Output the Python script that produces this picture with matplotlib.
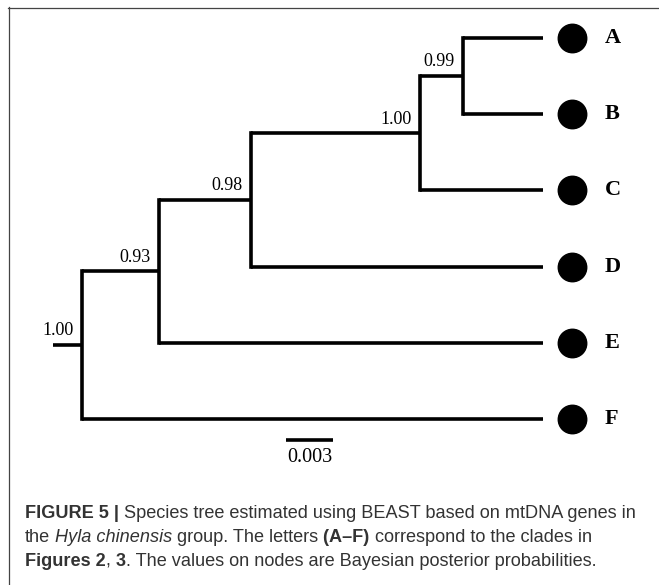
import matplotlib.pyplot as plt
from matplotlib.lines import Line2D

# species tree (BEAST), ultrametric; ages in substitutions/site
tips = ['A', 'B', 'C', 'D', 'E', 'F']
# internal nodes: (child 1, child 2)
node_names = ['AB', 'ABC', 'ABCD', 'ABCDE', 'root']
node_children = [('A', 'B'), ('AB', 'C'), ('ABC', 'D'), ('ABCD', 'E'), ('ABCDE', 'F')]
node_ages = [0.0051, 0.0078, 0.0186, 0.0245, 0.0294]
posteriors = ['0.99', '1.00', '0.98', '0.93', '1.00']
root_stem = 0.00185
scale_len = 0.003

W, H = 659, 585
px_per_unit = 47 / scale_len
fig = plt.figure(figsize=(W / 100, H / 100), dpi=100)
ax = fig.add_axes([0, 0, 1, 1])
ax.set_xlim(-82 / px_per_unit, (W - 82) / px_per_unit)
ax.set_ylim((H - 38) / 76.2, -38 / 76.2)
ax.axis('off')

root_age = node_ages[-1]
xpos, ypos = {}, {}
for i, t in enumerate(tips):
    xpos[t] = root_age
    ypos[t] = i
for name, (c1, c2), age in zip(node_names, node_children, node_ages):
    xpos[name] = root_age - age
    ypos[name] = (ypos[c1] + ypos[c2]) / 2

lw = 2.6
for name, (c1, c2) in zip(node_names, node_children):
    x = xpos[name]
    ax.plot([x, x], [ypos[c1], ypos[c2]], color='black', lw=lw, solid_capstyle='projecting')
    for c in (c1, c2):
        ax.plot([x, xpos[c]], [ypos[c], ypos[c]], color='black', lw=lw, solid_capstyle='butt')
ax.plot([-root_stem, 0], [ypos['root'], ypos['root']], color='black', lw=lw, solid_capstyle='butt')

# posterior probabilities at nodes
for name, pp in zip(node_names, posteriors):
    ax.annotate(pp, xy=(xpos[name], ypos[name]), xytext=(-6, 7), textcoords='offset points',
                ha='right', va='baseline', fontsize=13, family='Liberation Serif')

# clade tips
tip_gap = 29 / px_per_unit
for t in tips:
    ax.plot(root_age + tip_gap, ypos[t], 'o', color='black', markersize=20.5)
    ax.text(root_age + tip_gap + 33 / px_per_unit, ypos[t], t, ha='left', va='center',
            fontsize=16, fontweight='bold', family='Liberation Serif')

# scale bar
sx = 204 / px_per_unit
sy = (440 - 38) / 76.2
ax.plot([sx, sx + scale_len], [sy, sy], color='black', lw=lw, solid_capstyle='butt')
ax.text(sx + scale_len / 2, sy + 0.1, '0.003', ha='center', va='top', fontsize=14.5,
        family='Liberation Serif')

# frame lines
fig.add_artist(Line2D([8.5 / W, 8.5 / W], [0, 1 - 7 / H], color='#444444', lw=0.9))
fig.add_artist(Line2D([8 / W, 1], [1 - 7.5 / H, 1 - 7.5 / H], color='#444444', lw=0.9))

# caption, set piece by piece on a shared baseline
cap_color = '#333333'
cap_size = 13.1
cap_lines = [
    [('FIGURE 5 |', 'bold', 'normal'),
     (' Species tree estimated using BEAST based on mtDNA genes in', 'normal', 'normal')],
    [('the', 'normal', 'normal'), (' Hyla chinensis', 'normal', 'italic'),
     (' group. The letters', 'normal', 'normal'), (' (A–F)', 'bold', 'normal'),
     (' correspond to the clades in', 'normal', 'normal')],
    [('Figures 2', 'bold', 'normal'), (',', 'normal', 'normal'), (' 3', 'bold', 'normal'),
     ('. The values on nodes are Bayesian posterior probabilities.', 'normal', 'normal')],
]
baselines = [518, 542, 566]
renderer = fig.canvas.get_renderer()
for pieces, yb in zip(cap_lines, baselines):
    x = 25
    for s, weight, style in pieces:
        t = fig.text(x / W, 1 - yb / H, s, ha='left', va='baseline', fontsize=cap_size,
                     fontweight=weight, fontstyle=style, family='Liberation Sans',
                     color=cap_color)
        x += t.get_window_extent(renderer).width

fig.savefig('out.png', dpi=100)
